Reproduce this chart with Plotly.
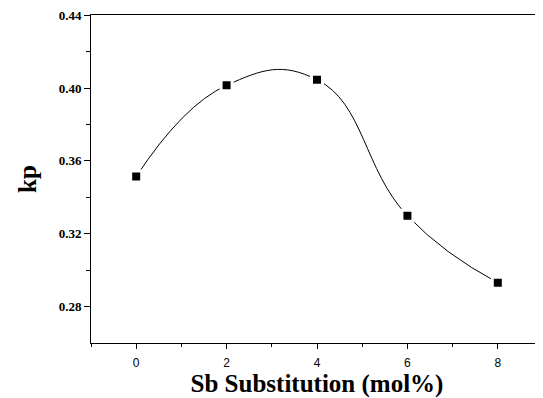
import plotly.graph_objects as go

sb = [0, 2, 4, 6, 8]
kp = [0.3514, 0.4015, 0.4046, 0.3299, 0.2931]
x_ticks = [0, 2, 4, 6, 8]
y_ticks = [0.28, 0.32, 0.36, 0.40, 0.44]
y_labels = ["0.28", "0.32", "0.36", "0.40", "0.44"]

SERIF = "Times New Roman"

fig = go.Figure()
fig.add_trace(go.Scatter(x=sb, y=kp, mode="lines",
                         line=dict(color="black", width=1, shape="spline", smoothing=1.3),
                         showlegend=False, hoverinfo="skip"))
fig.add_trace(go.Scatter(x=sb, y=kp, mode="markers",
                         marker=dict(symbol="square", size=11, color="black",
                                     line=dict(color="white", width=3)),
                         showlegend=False))

fig.update_layout(
    width=543, height=398,
    margin=dict(l=83, r=8, t=7, b=63, autoexpand=False),
    paper_bgcolor="white", plot_bgcolor="white",
    xaxis=dict(range=[-1, 9], tickvals=x_ticks, ticks="outside", ticklen=5,
               tickwidth=1, tickcolor="black", showline=True, linecolor="black",
               linewidth=1, mirror=True, showgrid=False, zeroline=False, automargin=False,
               tickfont=dict(family="Arial", size=12, color="black"), ticklabelstandoff=4,
               ticklabeloverflow="allow",
               minor=dict(dtick=1, tick0=1, ticks="outside", ticklen=3, tickcolor="black"),
               title=dict(text="<b>Sb Substitution (mol%)</b>", standoff=0,
                          font=dict(family=SERIF, size=25, color="black"))),
    yaxis=dict(range=[0.26, 0.4401], tickvals=y_ticks, ticktext=["<b>%s</b>" % t for t in y_labels],
               ticks="outside", ticklen=6, tickwidth=1, tickcolor="black",
               showline=True, linecolor="black", linewidth=1, mirror=False,
               showgrid=False, zeroline=False, automargin=False,
               ticklabeloverflow="allow",
               tickfont=dict(family=SERIF, size=13, color="black"),
               minor=dict(tickvals=[0.30, 0.34, 0.38, 0.42], ticks="outside", ticklen=4, tickcolor="black"),
               title=dict(text="<b>kp</b>", standoff=14,
                          font=dict(family=SERIF, size=25, color="black"))),
)

fig.write_html("out.html")
